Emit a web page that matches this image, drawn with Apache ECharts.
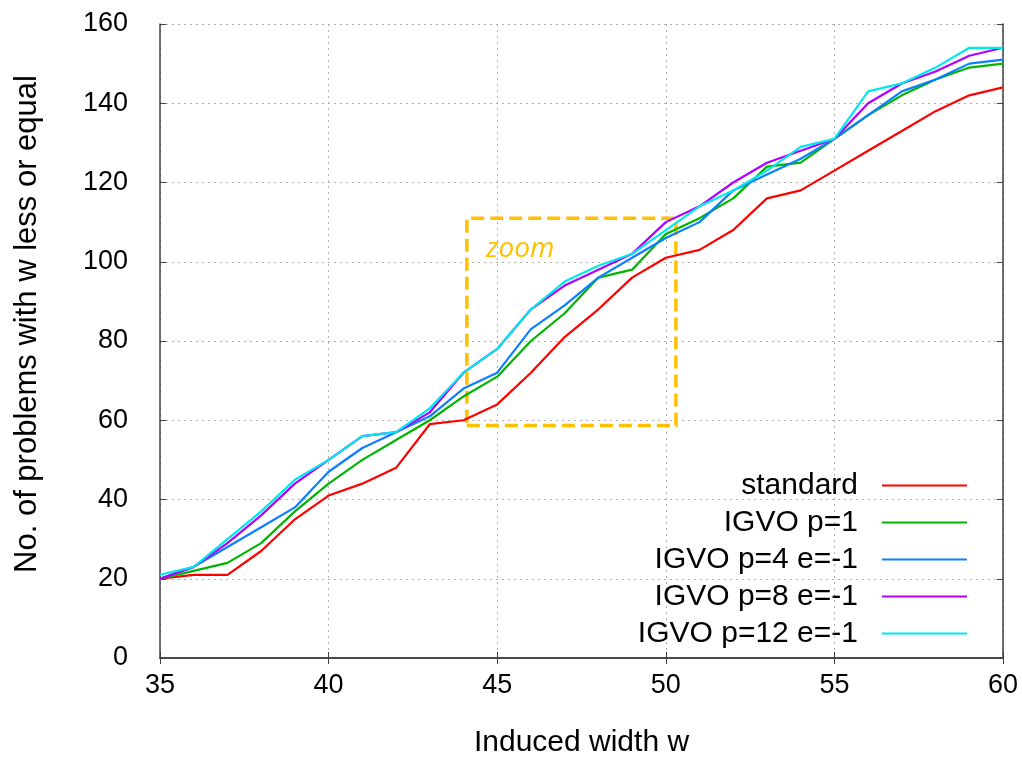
<!DOCTYPE html>
<html>
<head>
<meta charset="utf-8">
<script src="https://cdn.jsdelivr.net/npm/echarts@6/dist/echarts.min.js"></script>
<style>
  html, body { margin: 0; padding: 0; background: #fff; }
  #chart { width: 1022px; height: 763px; }
</style>
</head>
<body>
<div id="chart"></div>
<script>
// induced width w (x axis)
var widths = [35, 36, 37, 38, 39, 40, 41, 42, 43, 44, 45, 46, 47, 48, 49, 50, 51, 52, 53, 54, 55, 56, 57, 58, 59, 60];

// no. of problems with w less or equal, per ordering
var standard = [20, 21, 21, 27, 35, 41, 44, 48, 59, 60, 64, 72, 81, 88, 96, 101, 103, 108, 116, 118, 123, 128, 133, 138, 142, 144];
var igvoP1 = [20, 22, 24, 29, 37, 44, 50, 55, 60, 66, 71, 80, 87, 96, 98, 107, 111, 116, 124, 125, 131, 137, 142, 146, 149, 150];
var igvoP4 = [20, 23, 28, 33, 38, 47, 53, 57, 61, 68, 72, 83, 89, 96, 101, 106, 110, 118, 122, 126, 131, 137, 143, 146, 150, 151];
var igvoP8 = [20, 23, 29, 36, 44, 50, 56, 57, 62, 72, 78, 88, 94, 98, 102, 110, 114, 120, 125, 128, 131, 140, 145, 148, 152, 154];
var igvoP12 = [21, 23, 30, 37, 45, 50, 56, 57, 63, 72, 78, 88, 95, 99, 102, 108, 114, 118, 123, 129, 131, 143, 145, 149, 154, 154];

var seriesNames = ['standard', 'IGVO p=1', 'IGVO p=4 e=-1', 'IGVO p=8 e=-1', 'IGVO p=12 e=-1'];
var seriesColors = ['#ff0000', '#00b400', '#0a80ff', '#b000ff', '#00e8ee'];

// zoom box corners [w, count]
var zoomBox = [[44.1, 58.7], [50.3, 111]];

var font = 'Liberation Sans, Arial, sans-serif';

function pairs(vals) {
    var out = [];
    for (var i = 0; i < widths.length; i++) {
        out.push([widths[i], vals[i]]);
    }
    return out;
}

var allVals = [standard, igvoP1, igvoP4, igvoP8, igvoP12];
var series = [];
for (var i = 0; i < allVals.length; i++) {
    var s = {
        type: 'line',
        name: seriesNames[i],
        data: pairs(allVals[i]),
        symbol: 'none',
        lineStyle: { width: 2.2, color: seriesColors[i] },
        itemStyle: { color: seriesColors[i] },
        animation: false
    };
    if (i === allVals.length - 1) {
        s.markArea = {
            silent: true,
            itemStyle: {
                color: 'rgba(0,0,0,0)',
                borderColor: '#ffc000',
                borderWidth: 3.5,
                borderType: [13, 6]
            },
            label: {
                show: true,
                position: 'insideTopLeft',
                formatter: 'zoom',
                color: '#ffc000',
                fontStyle: 'italic',
                fontFamily: 'Open Sans, sans-serif',
                fontSize: 28,
                offset: [16, 14]
            },
            data: [[{ coord: zoomBox[0] }, { coord: zoomBox[1] }]]
        };
    }
    series.push(s);
}

var chart = echarts.init(document.getElementById('chart'));
var option = {
    backgroundColor: '#fff',
    animation: false,
    grid: { left: 160, right: 19, top: 24, bottom: 102 },
    legend: {
        orient: 'vertical',
        right: 55,
        bottom: 114,
        padding: 0,
        align: 'right',
        itemWidth: 85,
        itemHeight: 2,
        itemGap: 6,
        icon: 'rect',
        textStyle: {
            fontFamily: font,
            fontSize: 30,
            color: '#000',
            lineHeight: 31,
            padding: [0, 19, 0, 0]
        },
        data: seriesNames
    },
    xAxis: [{
        type: 'value',
        min: 35,
        max: 60,
        interval: 5,
        name: 'Induced width w',
        nameLocation: 'middle',
        nameGap: 70,
        nameTextStyle: { fontFamily: font, fontSize: 30, color: '#000' },
        axisLine: { lineStyle: { color: '#404040', width: 1.5 } },
        axisTick: { inside: true, length: 6, lineStyle: { color: '#404040' } },
        axisLabel: { fontFamily: font, fontSize: 27, color: '#000', margin: 14 },
        splitLine: { show: true, lineStyle: { color: '#b0b0b0', type: [2, 4], width: 1 } }
    }, {
        type: 'value',
        position: 'top',
        min: 35,
        max: 60,
        interval: 5,
        axisLine: { show: true, lineStyle: { color: '#404040', width: 1.5 } },
        axisTick: { show: true, inside: true, length: 6, lineStyle: { color: '#404040' } },
        axisLabel: { show: false },
        splitLine: { show: false }
    }],
    yAxis: [{
        type: 'value',
        min: 0,
        max: 160,
        interval: 20,
        name: 'No. of problems with w less or equal',
        nameLocation: 'middle',
        nameGap: 117,
        nameTextStyle: { fontFamily: font, fontSize: 31, color: '#000', padding: [0, 0, 0, 34] },
        axisLine: { show: true, lineStyle: { color: '#404040', width: 1.5 } },
        axisTick: { show: true, inside: true, length: 6, lineStyle: { color: '#404040' } },
        axisLabel: { fontFamily: font, fontSize: 27, color: '#000', margin: 32 },
        splitLine: { show: true, lineStyle: { color: '#b0b0b0', type: [2, 4], width: 1 } }
    }, {
        type: 'value',
        position: 'right',
        min: 0,
        max: 160,
        interval: 20,
        axisLine: { show: true, lineStyle: { color: '#404040', width: 1.5 } },
        axisTick: { show: true, inside: true, length: 6, lineStyle: { color: '#404040' } },
        axisLabel: { show: false },
        splitLine: { show: false }
    }],
    series: series
};
chart.setOption(option);
</script>
</body>
</html>
